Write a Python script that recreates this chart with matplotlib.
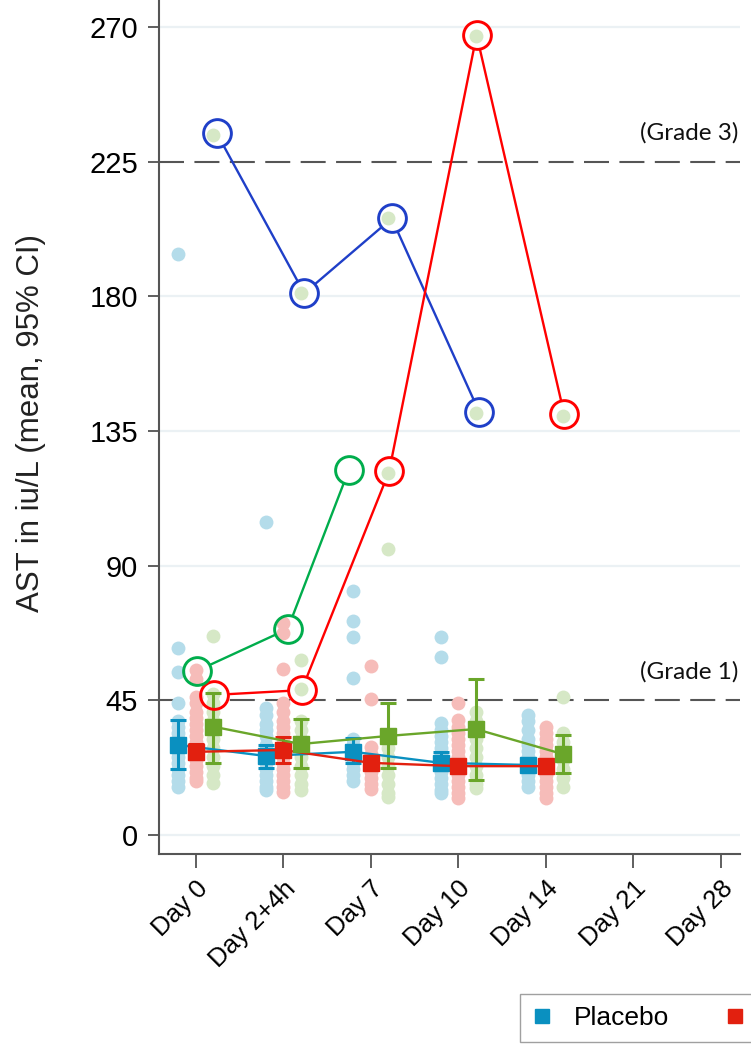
import matplotlib
matplotlib.use('Agg')
import matplotlib.pyplot as plt
from matplotlib.lines import Line2D
import numpy as np

# visits on the x axis
visits = ['Day 0', 'Day 2+4h', 'Day 7', 'Day 10', 'Day 14', 'Day 21', 'Day 28']

# individual AST values per visit (only the first 5 visits have data)
placebo_pts = [
    [194, 62.5, 54.5, 44, 38, 36, 34, 32, 30, 28, 26, 24, 22, 20, 18, 16],
    [104.5, 42.5, 40, 37, 35, 33, 30, 28, 26, 24, 22, 20, 18, 16, 15],
    [81.5, 71.5, 66, 52.5, 32, 30, 28, 26, 24, 22, 20, 18],
    [66, 59.5, 37.5, 35, 33, 31, 29, 27, 25, 23, 21, 19, 17, 15, 14],
    [40, 38, 35, 32, 30, 28, 26, 24, 22, 20, 18, 16],
]
red_pts = [
    [55, 52, 46, 44, 41, 39, 37, 35, 33, 31, 29, 27, 25, 23, 21, 19, 18],
    [71, 67.5, 55.5, 44, 41, 38, 36, 34, 32, 30, 28, 26, 24, 22, 20, 18, 16, 14.5],
    [56.5, 45.5, 29.5, 27, 25, 23, 21, 19, 17, 15.5],
    [44, 38.5, 36, 34, 32, 30, 28, 26, 24, 22, 20, 18, 16, 14, 12.5],
    [36, 34, 32, 30, 28, 26, 24, 22, 20, 18, 16, 14, 12.5],
]
green_pts = [
    [234, 66.5, 47, 44, 41, 38, 35, 32, 29, 26, 23, 20, 17.5],
    [181, 58.5, 48.8, 38, 35, 32, 29, 26, 23, 20, 17, 15],
    [206, 121, 95.5, 31.5, 29, 26, 23, 20, 17, 14, 12.7],
    [267, 141, 41, 38, 35, 32, 29, 26, 23, 20, 17, 15.7],
    [140, 46, 34, 31, 28, 25, 22, 19, 16],
]

# group means and 95% CI
placebo_mean = [30.1, 26.4, 27.8, 24.1, 23.4]
placebo_lo = [22.0, 22.4, 24.0, 21.7, 21.5]
placebo_hi = [38.4, 30.0, 32.4, 27.8, 25.2]
red_mean = [27.8, 28.4, 24.1, 23.0, 23.0]
red_lo = [25.5, 24.0, 22.0, 21.0, 21.0]
red_hi = [30.5, 32.7, 26.5, 25.0, 25.0]
green_mean = [36.2, 30.4, 33.1, 35.4, 27.0]
green_lo = [24.0, 22.3, 22.4, 18.4, 20.7]
green_hi = [47.5, 38.7, 44.0, 52.1, 33.4]

# highlighted individual subjects
subj_blue_visit = [0, 1, 2, 3]
subj_blue_val = [234.5, 181, 206, 141.3]
subj_red_visit = [0, 1, 2, 3, 4]
subj_red_val = [46.8, 48.4, 121.5, 267.3, 140.7]
subj_green_visit = [0, 1, 2]
subj_green_val = [54.8, 68.8, 122]

yticks = [0, 45, 90, 135, 180, 225, 270]
grade_lines = [45, 225]
grade_labels = ['(Grade 1)', '(Grade 3)']

# ---- layout / style ----
off = {'placebo': -0.2, 'red': 0.0, 'green': 0.2}
subj_off_blue = 0.24
subj_off_red = 0.21
subj_off_green = [0.01, 0.05, -0.25]

c_blue, c_red, c_green = '#0a90c0', '#e2200f', '#6aa62a'
l_blue, l_red, l_green = '#b4dcea', '#f6bcb9', '#d6e8c6'
s_blue, s_red, s_green = '#1f3fc8', '#ff0000', '#00ad4c'

fig = plt.figure(figsize=(7.51, 10.45), dpi=100)
ax = fig.add_axes([159 / 751, 1 - 854 / 1045, (740 - 159) / 751, 854 / 1045])

# light grid
for y in [0, 90, 135, 180, 270]:
    ax.axhline(y, color='#ebf1f4', lw=1.6, zorder=0)
for y in grade_lines:
    ax.axhline(y, color='#555555', lw=1.5, dashes=(12, 5), zorder=0.5)

# subject lines, with white disks to hide line inside circles
def subject(vis, vals, offs, col):
    xs = np.array(vis) + np.array(offs)
    ax.plot(xs, vals, color=col, lw=1.7, zorder=1)
    ax.plot(xs, vals, 'o', ms=20, mfc='white', mec='none', zorder=1.5)
    ax.plot(xs, vals, 'o', ms=20, mfc='none', mec=col, mew=2.1, zorder=6)

subject(subj_blue_visit, subj_blue_val, [subj_off_blue] * 4, s_blue)
subject(subj_red_visit, subj_red_val, [subj_off_red] * 5, s_red)
subject(subj_green_visit, subj_green_val, subj_off_green, s_green)

# individual points
for pts, key, col in [(placebo_pts, 'placebo', l_blue), (red_pts, 'red', l_red),
                      (green_pts, 'green', l_green)]:
    for i, vals in enumerate(pts):
        ax.plot([i + off[key]] * len(vals), vals, 'o', ms=10, color=col,
                mec='none', zorder=2)

# means with CI
for m, lo, hi, key, col in [(placebo_mean, placebo_lo, placebo_hi, 'placebo', c_blue),
                            (red_mean, red_lo, red_hi, 'red', c_red),
                            (green_mean, green_lo, green_hi, 'green', c_green)]:
    xs = np.arange(len(m)) + off[key]
    m = np.array(m)
    err = [m - np.array(lo), np.array(hi) - m]
    ax.errorbar(xs, m, yerr=err, fmt='s-', color=col, ms=12, lw=1.7,
                elinewidth=2.2, capsize=5.5, capthick=2.2, zorder=4)

# grade labels
for y, lab in zip(grade_lines, grade_labels):
    ax.text(0.998, y + 6, lab, transform=ax.get_yaxis_transform(), ha='right',
            va='bottom', fontsize=17.5, family='Lato', color='#111111')

ax.set_xlim(-0.42, 6.22)
ax.set_ylim(-6.35, 279)
ax.set_yticks(yticks)
ax.set_yticklabels([str(v) for v in yticks], fontsize=21, family='Liberation Sans')
ax.set_xticks(range(len(visits)))
ax.set_xticklabels(visits, rotation=45, ha='right', rotation_mode='anchor',
                   fontsize=18.5, family='Liberation Sans')
ax.tick_params(axis='y', length=8, width=1.2, color='#444444', pad=7)
ax.tick_params(axis='x', length=10, width=1.2, color='#444444', pad=6)
for s in ['top', 'right']:
    ax.spines[s].set_visible(False)
for s in ['left', 'bottom']:
    ax.spines[s].set_color('#555555')
    ax.spines[s].set_linewidth(1.5)

fig.text(31 / 751, 1 - 423 / 1045, 'AST in iu/L (mean, 95% CI)', rotation=90,
         ha='center', va='center', fontsize=22.5, family='Liberation Sans',
         color='#222222')

# legend (partly cut by figure edge, as in the original)
handles = [Line2D([], [], marker='s', ls='', color=c_blue, ms=10),
           Line2D([], [], marker='s', ls='', color=c_red, ms=10)]
fig.legend(handles, ['Placebo', ''], loc='upper left',
           bbox_to_anchor=(520 / 751, 1 - 994 / 1045), ncol=2,
           frameon=True, fancybox=False, edgecolor='#888888',
           handlelength=0.8, handletextpad=0.8, columnspacing=2.1,
           borderpad=0.45, borderaxespad=0,
           prop={'family': 'Liberation Sans', 'size': 19})

fig.savefig('out.png', dpi=100)
